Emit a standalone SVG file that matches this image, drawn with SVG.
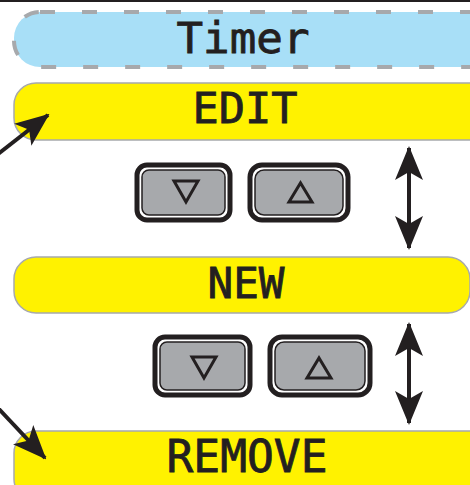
<svg xmlns="http://www.w3.org/2000/svg" width="470" height="485" viewBox="0 0 470 485">
<style>
.menu{fill:#fff200;stroke:#a7a9ac;stroke-width:1.5}
.lbl{font-family:"DejaVu Sans Mono","Liberation Mono",monospace;fill:#231f20;stroke:#231f20;stroke-width:0.8;text-anchor:middle}
.btnOuter{fill:#fff;stroke:#231f20;stroke-width:5}
.btnInner{fill:#a7a9ac;stroke:#231f20;stroke-width:1.5}
.tri{fill:none;stroke:#231f20;stroke-width:3;stroke-linejoin:miter}
.shaft{stroke:#231f20;stroke-width:4;fill:none}
</style>
<defs>
<marker id="ah" viewBox="0 0 34 28" refX="32" refY="14" markerWidth="34" markerHeight="28" markerUnits="userSpaceOnUse" orient="auto-start-reverse">
<path d="M0,0 L34,14 L0,28 L8,14 Z" fill="#231f20"/>
</marker>
</defs>
<line x1="0" y1="1" x2="470" y2="1" stroke="#231f20" stroke-width="2"/>
<g id="timer">
<rect x="14" y="12" width="480" height="55" rx="26" fill="#a8dff7" stroke="#a7a9ac" stroke-width="4" stroke-dasharray="15 27"/>
<text class="lbl" x="243" y="53" font-size="43" textLength="133" lengthAdjust="spacingAndGlyphs">Timer</text>
</g>
<g id="edit">
<rect class="menu" x="14" y="83" width="480" height="57" rx="22"/>
<text class="lbl" x="245" y="123" font-size="42" textLength="105" lengthAdjust="spacingAndGlyphs">EDIT</text>
</g>
<g id="new">
<rect class="menu" x="14" y="257" width="456" height="56" rx="22"/>
<text class="lbl" x="246" y="298" font-size="42" textLength="77" lengthAdjust="spacingAndGlyphs">NEW</text>
</g>
<g id="remove">
<rect class="menu" x="14" y="431" width="480" height="70" rx="22"/>
<text class="lbl" x="247" y="472" font-size="44" textLength="161" lengthAdjust="spacingAndGlyphs">REMOVE</text>
</g>
<g id="btn-down-1">
<rect class="btnOuter" x="137" y="165" width="93" height="55" rx="10"/>
<rect class="btnInner" x="142" y="170" width="83" height="45" rx="7"/>
<path class="tri" d="M174,181 L198,181 L186,202 Z"/>
</g>
<g id="btn-up-1">
<rect class="btnOuter" x="250" y="165" width="98" height="55" rx="12"/>
<rect class="btnInner" x="255" y="170" width="88" height="45" rx="9"/>
<path class="tri" d="M289,202 L312,202 L300.5,183 Z"/>
</g>
<g id="btn-down-2">
<rect class="btnOuter" x="155" y="337" width="95" height="58" rx="10"/>
<rect class="btnInner" x="160" y="342" width="85" height="48" rx="7"/>
<path class="tri" d="M192,357 L216,357 L204,378 Z"/>
</g>
<g id="btn-up-2">
<rect class="btnOuter" x="270" y="337" width="100" height="58" rx="12"/>
<rect class="btnInner" x="275" y="342" width="90" height="48" rx="9"/>
<path class="tri" d="M307,378 L331,378 L319,358 Z"/>
</g>
<g id="connectors">
<line class="shaft" x1="409" y1="148" x2="409" y2="248" marker-start="url(#ah)" marker-end="url(#ah)"/>
<line class="shaft" x1="409" y1="324" x2="409" y2="423" marker-start="url(#ah)" marker-end="url(#ah)"/>
<line class="shaft" x1="-2" y1="154" x2="48" y2="115" marker-end="url(#ah)"/>
<line class="shaft" x1="-2" y1="408" x2="45" y2="458" marker-end="url(#ah)"/>
</g>
</svg>
